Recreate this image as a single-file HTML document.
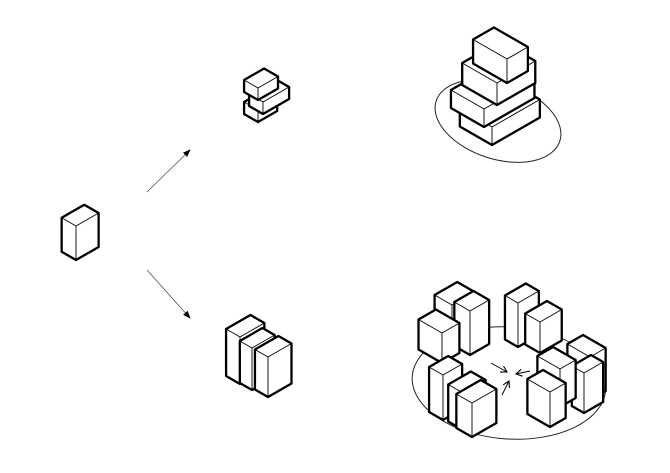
<!DOCTYPE html>
<html><head><meta charset="utf-8"><style>html,body{margin:0;padding:0;background:#fff}svg{display:block}</style></head>
<body>
<svg id="s" width="670" height="473" viewBox="0 0 670 473" xmlns="http://www.w3.org/2000/svg">
<rect width="670" height="473" fill="#fff"/>
<defs>
<marker id="ah" markerWidth="8" markerHeight="8" refX="7" refY="4" orient="auto" markerUnits="userSpaceOnUse"><path d="M0,1 L8,4 L0,7 z" fill="#000"/></marker>
<marker id="oa" markerWidth="8" markerHeight="8" refX="7" refY="4" orient="auto" markerUnits="userSpaceOnUse"><path d="M1,0.5 L7,4 L1,7.5" fill="none" stroke="#000" stroke-width="1.1"/></marker>
</defs>
<line x1="147" y1="192" x2="190" y2="150" stroke="#444" stroke-width="0.7" marker-end="url(#ah)"/>
<line x1="147" y1="270" x2="190" y2="318" stroke="#444" stroke-width="0.7" marker-end="url(#ah)"/>
<ellipse cx="498" cy="121" rx="65" ry="38" transform="rotate(18 498 121)" fill="none" stroke="#222" stroke-width="1"/>
<ellipse cx="509" cy="383" rx="97" ry="56" transform="rotate(4 509 383)" fill="none" stroke="#222" stroke-width="1"/>
<g id="g"></g>
<line x1="491" y1="363" x2="507" y2="372" stroke="#000" stroke-width="1" marker-end="url(#oa)"/>
<line x1="530" y1="371" x2="516" y2="374" stroke="#000" stroke-width="1" marker-end="url(#oa)"/>
<line x1="502" y1="395" x2="509" y2="381" stroke="#000" stroke-width="1" marker-end="url(#oa)"/>
</svg>
<script>
var g=document.getElementById('g'),NS='http://www.w3.org/2000/svg';
var L=[-0.87,-0.5],R=[0.87,-0.5];
function box(fx,fy,a,b,h){
 var F=[fx,fy-h];
 var lb=[fx+a*L[0],fy+a*L[1]],lt=[lb[0],lb[1]-h];
 var rb=[fx+b*R[0],fy+b*R[1]],rt=[rb[0],rb[1]-h];
 var bk=[lt[0]+b*R[0],lt[1]+b*R[1]];
 var p=document.createElementNS(NS,'path');
 p.setAttribute('d','M'+[fx,fy]+' L'+lb+' L'+lt+' L'+bk+' L'+rt+' L'+rb+' Z');
 p.setAttribute('fill','#fff');p.setAttribute('stroke','#000');p.setAttribute('stroke-width','2.3');p.setAttribute('stroke-linejoin','round');
 g.appendChild(p);
 var q=document.createElementNS(NS,'path');
 q.setAttribute('d','M'+lt+' L'+F+' L'+rt+' M'+F+' L'+[fx,fy]);
 q.setAttribute('fill','none');q.setAttribute('stroke','#000');q.setAttribute('stroke-width','0.9');
 g.appendChild(q);
}
box(76,260,16.5,26,34);
box(258,122,16,22,12);box(263,114,16,30,12);box(258,100,16,23,12);
box(240,384,16,28,47);box(252,390,14,26,42);box(268,397,15,27,40);
box(492,145,37,55,18);box(484,127,38,58,18);box(497,105,40,44,22);box(507,83,39,24,24);
box(518,347,15,24,44);box(540,353,17,25,31);
box(452,350,20,26,45);box(470,355,18,22,44);box(442,363,27,20,30);
box(590,400,26,18,43);box(584,413,14,22,40);box(560,407,26,18,38);box(550,427,26,18,35);
box(443,420,16,22,45);box(463,430,17,26,37);box(472,437,18,28,34);
</script>
</body></html>
